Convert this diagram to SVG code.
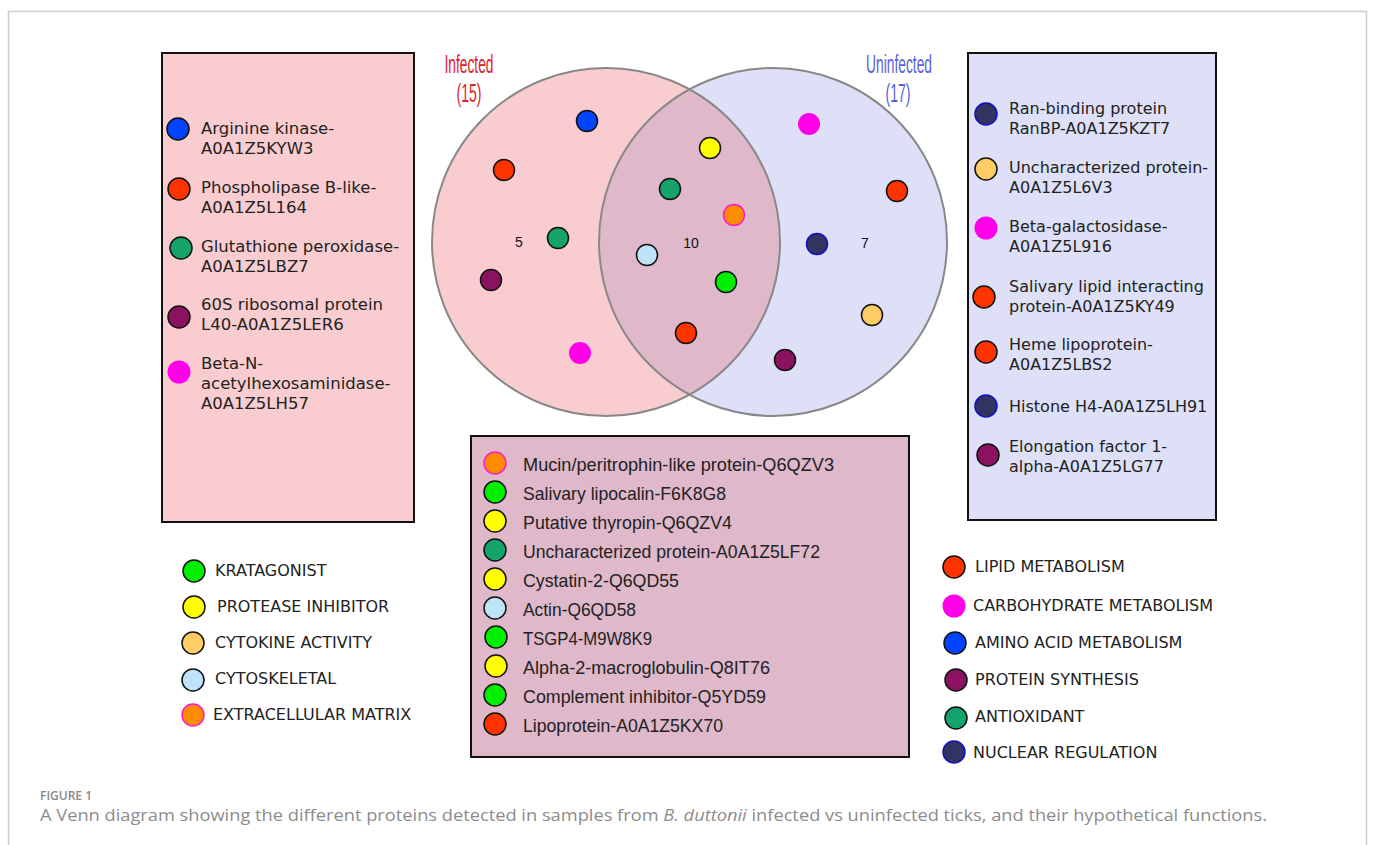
<svg xmlns="http://www.w3.org/2000/svg" width="1375" height="845" viewBox="0 0 1375 845">
<style>
.lbl{font-family:"DejaVu Sans","Verdana",sans-serif;font-size:16px;fill:#222}
.lblL{font-family:"DejaVu Sans","Verdana",sans-serif;font-size:16.5px;fill:#222}
.mid{font-family:"Liberation Sans",Arial,sans-serif;font-size:19px;fill:#222}
.num{font-family:"Liberation Sans",Arial,sans-serif;font-size:14px;fill:#111}
.box{stroke:#111;stroke-width:2}
.d{stroke:#111;stroke-width:1.5}
.blue{fill:#0044ff}.red{fill:#ff3300}.teal{fill:#13a36b}.purp{fill:#8a1260}.mag{fill:#ff00e8}
.yel{fill:#ffff00}.org{fill:#ff8c00;stroke:#ff1acc;stroke-width:1.5}.lb{fill:#bfe4fa}.grn{fill:#00ee00}
.navy{fill:#33335f;stroke:#1010c8;stroke-width:1.5}.lor{fill:#ffcc66}
.setL{font-family:"Liberation Sans",Arial,sans-serif;font-size:25px;fill:#e0202a}
.setR{font-family:"Liberation Sans",Arial,sans-serif;font-size:25px;fill:#5a62d8}
</style>
<defs>
<clipPath id="clipL"><circle cx="606" cy="242" r="174"/></clipPath>
</defs>
<rect x="8.5" y="11.5" width="1358" height="860" fill="#fff" stroke="#cccccc" stroke-width="1.5"/>

<g id="venn">
<circle cx="606" cy="242" r="174" fill="#f9cdd0"/>
<circle cx="773" cy="242" r="174" fill="#dde0f7"/>
<circle cx="773" cy="242" r="174" fill="#dfb8ca" clip-path="url(#clipL)"/>
<circle cx="606" cy="242" r="174" fill="none" stroke="#888" stroke-width="2"/>
<circle cx="773" cy="242" r="174" fill="none" stroke="#888" stroke-width="2"/>
<text class="setL" x="469" y="73" text-anchor="middle" textLength="49" lengthAdjust="spacingAndGlyphs">Infected</text>
<text class="setL" x="469" y="102" text-anchor="middle" textLength="25" lengthAdjust="spacingAndGlyphs">(15)</text>
<text class="setR" x="899" y="73" text-anchor="middle" textLength="66" lengthAdjust="spacingAndGlyphs">Uninfected</text>
<text class="setR" x="898" y="102" text-anchor="middle" textLength="25" lengthAdjust="spacingAndGlyphs">(17)</text>
<text class="num" x="519" y="247" text-anchor="middle">5</text>
<text class="num" x="691" y="248" text-anchor="middle">10</text>
<text class="num" x="865" y="248" text-anchor="middle">7</text>
<circle class="d blue" cx="587" cy="121" r="10.5"/>
<circle class="d red" cx="504" cy="170" r="10.5"/>
<circle class="d teal" cx="558" cy="238" r="10.5"/>
<circle class="d purp" cx="491" cy="280" r="10.5"/>
<circle class="mag" cx="580" cy="353" r="11"/>
<circle class="d yel" cx="710" cy="148" r="10.5"/>
<circle class="d teal" cx="670" cy="189" r="10.5"/>
<circle class="org" cx="734" cy="215" r="10.5"/>
<circle class="d lb" cx="647" cy="255" r="10.5"/>
<circle class="d grn" cx="726" cy="282" r="10.5"/>
<circle class="d red" cx="686" cy="333" r="10.5"/>
<circle class="mag" cx="809" cy="124" r="11"/>
<circle class="d red" cx="897" cy="191" r="10.5"/>
<circle class="navy" cx="817" cy="244" r="10.5"/>
<circle class="d lor" cx="872" cy="315" r="10.5"/>
<circle class="d purp" cx="785" cy="360" r="10.5"/>
</g>

<g id="box-infected">
<rect class="box" x="162" y="53" width="252" height="469" fill="#f9cdd0"/>
<circle class="d blue" cx="178" cy="129" r="11"/>
<text class="lblL" x="201" y="134">Arginine kinase-</text>
<text class="lblL" x="201" y="154">A0A1Z5KYW3</text>
<circle class="d red" cx="179" cy="189" r="11"/>
<text class="lblL" x="201" y="193">Phospholipase B-like-</text>
<text class="lblL" x="201" y="213">A0A1Z5L164</text>
<circle class="d teal" cx="181" cy="248" r="11"/>
<text class="lblL" x="201" y="252">Glutathione peroxidase-</text>
<text class="lblL" x="201" y="272">A0A1Z5LBZ7</text>
<circle class="d purp" cx="179" cy="317" r="11"/>
<text class="lblL" x="201" y="310">60S ribosomal protein</text>
<text class="lblL" x="201" y="330">L40-A0A1Z5LER6</text>
<circle class="mag" cx="179" cy="372" r="11.5"/>
<text class="lblL" x="201" y="369">Beta-N-</text>
<text class="lblL" x="201" y="389">acetylhexosaminidase-</text>
<text class="lblL" x="201" y="409">A0A1Z5LH57</text>
</g>

<g id="box-uninfected">
<rect class="box" x="968" y="53" width="248" height="467" fill="#dde0f7"/>
<circle class="navy" cx="986" cy="114" r="11"/>
<text class="lbl" x="1009" y="114">Ran-binding protein</text>
<text class="lbl" x="1009" y="134">RanBP-A0A1Z5KZT7</text>
<circle class="d lor" cx="986" cy="169" r="11"/>
<text class="lbl" x="1009" y="173">Uncharacterized protein-</text>
<text class="lbl" x="1009" y="193">A0A1Z5L6V3</text>
<circle class="mag" cx="986" cy="228" r="11.5"/>
<text class="lbl" x="1009" y="232">Beta-galactosidase-</text>
<text class="lbl" x="1009" y="252">A0A1Z5L916</text>
<circle class="d red" cx="984" cy="297" r="11"/>
<text class="lbl" x="1009" y="292">Salivary lipid interacting</text>
<text class="lbl" x="1009" y="312">protein-A0A1Z5KY49</text>
<circle class="d red" cx="986" cy="352" r="11"/>
<text class="lbl" x="1009" y="350">Heme lipoprotein-</text>
<text class="lbl" x="1009" y="370">A0A1Z5LBS2</text>
<circle class="navy" cx="986" cy="406" r="11"/>
<text class="lbl" x="1009" y="412">Histone H4-A0A1Z5LH91</text>
<circle class="d purp" cx="988" cy="455" r="11"/>
<text class="lbl" x="1009" y="452">Elongation factor 1-</text>
<text class="lbl" x="1009" y="472">alpha-A0A1Z5LG77</text>
</g>

<g id="box-shared">
<rect class="box" x="471" y="436" width="438" height="321" fill="#dfb8ca"/>
<circle class="org" cx="495" cy="463" r="11"/>
<text class="mid" x="523" y="471" textLength="311" lengthAdjust="spacingAndGlyphs">Mucin/peritrophin-like protein-Q6QZV3</text>
<circle class="d grn" cx="495" cy="492" r="11"/>
<text class="mid" x="523" y="500" textLength="203" lengthAdjust="spacingAndGlyphs">Salivary lipocalin-F6K8G8</text>
<circle class="d yel" cx="495" cy="521" r="11"/>
<text class="mid" x="523" y="529" textLength="209" lengthAdjust="spacingAndGlyphs">Putative thyropin-Q6QZV4</text>
<circle class="d teal" cx="495" cy="550" r="11"/>
<text class="mid" x="523" y="558" textLength="297" lengthAdjust="spacingAndGlyphs">Uncharacterized protein-A0A1Z5LF72</text>
<circle class="d yel" cx="495" cy="579" r="11"/>
<text class="mid" x="523" y="587" textLength="156" lengthAdjust="spacingAndGlyphs">Cystatin-2-Q6QD55</text>
<circle class="d lb" cx="495" cy="608" r="11"/>
<text class="mid" x="523" y="616" textLength="113" lengthAdjust="spacingAndGlyphs">Actin-Q6QD58</text>
<circle class="d grn" cx="496" cy="637" r="11"/>
<text class="mid" x="523" y="645" textLength="129" lengthAdjust="spacingAndGlyphs">TSGP4-M9W8K9</text>
<circle class="d yel" cx="496" cy="666" r="11"/>
<text class="mid" x="523" y="674" textLength="247" lengthAdjust="spacingAndGlyphs">Alpha-2-macroglobulin-Q8IT76</text>
<circle class="d grn" cx="495" cy="695" r="11"/>
<text class="mid" x="523" y="703" textLength="243" lengthAdjust="spacingAndGlyphs">Complement inhibitor-Q5YD59</text>
<circle class="d red" cx="495" cy="724" r="11"/>
<text class="mid" x="523" y="732" textLength="200" lengthAdjust="spacingAndGlyphs">Lipoprotein-A0A1Z5KX70</text>
</g>

<g id="legend-left">
<circle class="d grn" cx="194" cy="571" r="11"/>
<text class="lbl" x="215" y="576">KRATAGONIST</text>
<circle class="d yel" cx="194" cy="607" r="11"/>
<text class="lbl" x="217" y="612">PROTEASE INHIBITOR</text>
<circle class="d lor" cx="193" cy="643" r="11"/>
<text class="lbl" x="215" y="648">CYTOKINE ACTIVITY</text>
<circle class="d lb" cx="193" cy="680" r="11"/>
<text class="lbl" x="215" y="684">CYTOSKELETAL</text>
<circle class="org" cx="193" cy="715" r="11"/>
<text class="lbl" x="213" y="720">EXTRACELLULAR MATRIX</text>
</g>

<g id="legend-right">
<circle class="d red" cx="954" cy="567" r="11"/>
<text class="lbl" x="975" y="572">LIPID METABOLISM</text>
<circle class="mag" cx="954" cy="606" r="11.5"/>
<text class="lbl" x="973" y="611">CARBOHYDRATE METABOLISM</text>
<circle class="d blue" cx="955" cy="643" r="11"/>
<text class="lbl" x="975" y="648">AMINO ACID METABOLISM</text>
<circle class="d purp" cx="956" cy="680" r="11"/>
<text class="lbl" x="975" y="685">PROTEIN SYNTHESIS</text>
<circle class="d teal" cx="956" cy="718" r="11"/>
<text class="lbl" x="975" y="722">ANTIOXIDANT</text>
<circle class="navy" cx="954" cy="752" r="11"/>
<text class="lbl" x="973" y="758">NUCLEAR REGULATION</text>
</g>

<g id="caption">
<text x="40" y="800" font-family="Open Sans,Liberation Sans,sans-serif" font-size="12" font-weight="600" fill="#888">FIGURE 1</text>
<text x="40" y="821" font-family="Open Sans,Liberation Sans,sans-serif" font-size="16" fill="#8c8c8c" textLength="1227" lengthAdjust="spacingAndGlyphs">A Venn diagram showing the different proteins detected in samples from <tspan font-style="italic">B. duttonii</tspan> infected vs uninfected ticks, and their hypothetical functions.</text>
</g>
</svg>
